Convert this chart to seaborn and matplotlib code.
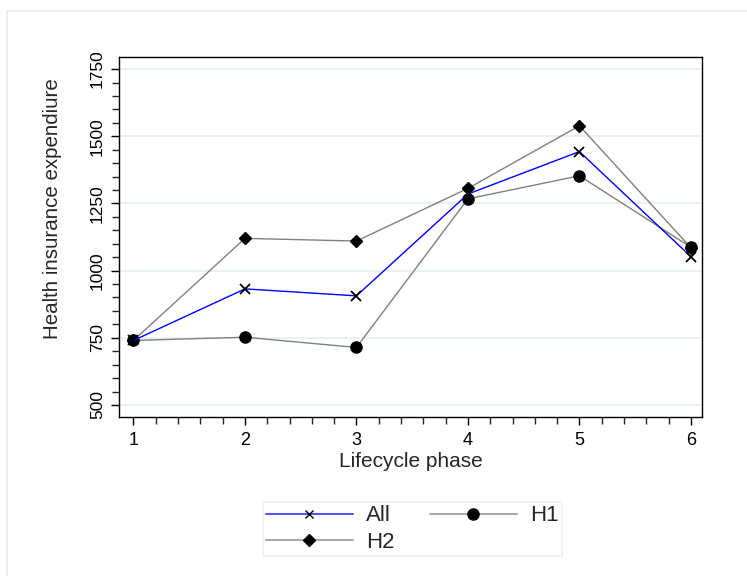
import numpy as np
import pandas as pd
import matplotlib
matplotlib.use('Agg')
import matplotlib.pyplot as plt
from matplotlib.ticker import MultipleLocator
from matplotlib.lines import Line2D
import seaborn as sns

# Values
phases = [1, 2, 3, 4, 5, 6]
all_vals = [740, 932, 906, 1285, 1443, 1052]
h1_vals = [740, 752, 714, 1267, 1353, 1087]
h2_vals = [740, 1120, 1110, 1306, 1539, 1085]
series_names = ['All', 'H1', 'H2']
y_ticks = [500, 750, 1000, 1250, 1500, 1750]

df = pd.concat([
    pd.DataFrame({'phase': phases, 'value': all_vals, 'group': 'All'}),
    pd.DataFrame({'phase': phases, 'value': h1_vals, 'group': 'H1'}),
    pd.DataFrame({'phase': phases, 'value': h2_vals, 'group': 'H2'}),
], ignore_index=True)

sns.set_style('ticks')
plt.rcParams['font.family'] = ['Liberation Sans', 'DejaVu Sans']

fig = plt.figure(figsize=(7.47, 5.76), dpi=100)
ax = fig.add_axes([0.1593, 0.276, 0.7805, 0.625])

# faint outer frame of the original graph region
fig.patches.append(plt.Rectangle((0.0094, -0.1), 1.2, 1.081, transform=fig.transFigure,
                                 fill=False, edgecolor='#e6eeee', linewidth=1.2))

styles = {
    'All': dict(color='#0000ff', marker='x', markersize=7, mew=1.3),
    'H1': dict(color='#808080', marker='o', markersize=8, mew=1),
    'H2': dict(color='#808080', marker='D', markersize=6.5, mew=1),
}
# draw H2 and H1 first so the blue line sits on top
for name in ['H2', 'H1', 'All']:
    sub = df[df['group'] == name]
    st = styles[name]
    sns.lineplot(data=sub, x='phase', y='value', color=st['color'], marker=st['marker'],
                 markersize=st['markersize'], mew=st['mew'], mec='black', mfc='black',
                 linewidth=1.0, legend=False, ax=ax)

ax.set_xlim(0.87, 6.1)
ax.set_ylim(455, 1795)
ax.set_xticks(phases)
ax.set_yticks(y_ticks)
ax.xaxis.set_minor_locator(MultipleLocator(0.2))
ax.yaxis.set_minor_locator(MultipleLocator(50))
ax.grid(axis='y', which='major', color='#e6eff1', linewidth=1.2)
ax.set_axisbelow(True)

for side in ['top', 'right', 'bottom', 'left']:
    ax.spines[side].set_visible(True)
    ax.spines[side].set_color('black')
    ax.spines[side].set_linewidth(1.0)

ax.tick_params(axis='both', which='major', length=6, width=1, colors='black')
ax.tick_params(axis='both', which='minor', length=5, width=1)
ax.tick_params(axis='x', labelsize=13, pad=5)
ax.tick_params(axis='y', labelsize=12.5, pad=4)
for lbl in ax.get_yticklabels():
    lbl.set_rotation(90)
    lbl.set_va('center')

ax.set_xlabel('Lifecycle phase', fontsize=15, labelpad=2)
ax.set_ylabel('Health insurance expendiure', fontsize=14.8, labelpad=20)
ax.yaxis.set_label_coords(-0.098, 0.578)

# legend: row 1 All, H1; row 2 H2
h_all = Line2D([], [], color='#5555ff', marker='x', mec='black', mfc='black', markersize=6, linewidth=1.5)
h_h1 = Line2D([], [], color='#aaaaaa', marker='o', mec='black', mfc='black', markersize=8, linewidth=1.5)
h_h2 = Line2D([], [], color='#aaaaaa', marker='D', mec='black', mfc='black', markersize=6.5, linewidth=1.5)
leg = fig.legend([h_all, h_h2, h_h1], ['All', 'H2', 'H1'], ncol=2,
                 loc='upper center', bbox_to_anchor=(0.552, 0.1285),
                 fontsize=16, frameon=True, fancybox=False, handlelength=3.9,
                 columnspacing=1.6, handletextpad=0.6, borderpad=0.15,
                 labelspacing=0.25, borderaxespad=0)
leg.get_frame().set_edgecolor('#e6eeee')
leg.get_frame().set_linewidth(1.2)

plt.savefig('out.png', dpi=100)
